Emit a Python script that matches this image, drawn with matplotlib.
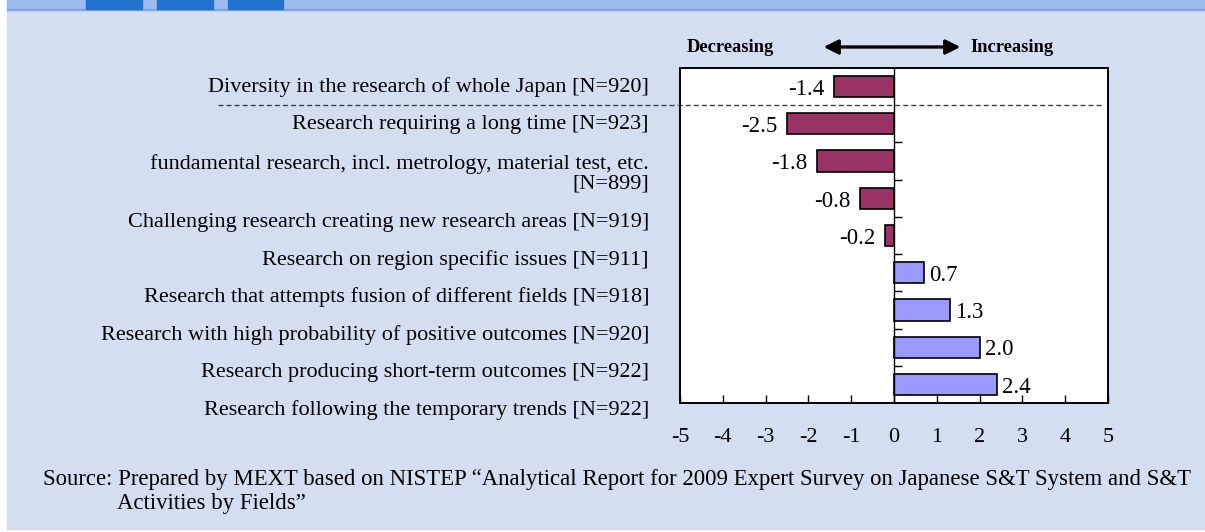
import matplotlib.pyplot as plt
from matplotlib.patches import Rectangle

# data
categories = [
    "Diversity in the research of whole Japan [N=920]",
    "Research requiring a long time [N=923]",
    "fundamental research, incl. metrology, material test, etc.\n[N=899]",
    "Challenging research creating new research areas [N=919]",
    "Research on region specific issues [N=911]",
    "Research that attempts fusion of different fields [N=918]",
    "Research with high probability of positive outcomes [N=920]",
    "Research producing short-term outcomes [N=922]",
    "Research following the temporary trends [N=922]",
]
values = [-1.4, -2.5, -1.8, -0.8, -0.2, 0.7, 1.3, 2.0, 2.4]
xticks = [-5, -4, -3, -2, -1, 0, 1, 2, 3, 4, 5]
source_line1 = ("Source: Prepared by MEXT based on NISTEP \u201cAnalytical Report for 2009 Expert "
                "Survey on Japanese S&T System and S&T")
source_line2 = "Activities by Fields\u201d"

W, H = 1205, 532
SERIF = ["Liberation Serif", "DejaVu Serif"]
plt.rcParams["font.family"] = SERIF

NEG = "#993366"
POS = "#9999FF"
PANEL = "#D3DFF0"

fig = plt.figure(figsize=(W / 100, H / 100), dpi=100)
fig.patch.set_facecolor("white")

def fx(x):
    return x / W

def fy(y):
    return 1 - y / H

# background panel and header strip
fig.patches.append(Rectangle((fx(7), fy(529)), fx(W - 7), (529 - 9) / H,
                             transform=fig.transFigure, color=PANEL, zorder=0))
fig.patches.append(Rectangle((fx(7), fy(9)), fx(W - 7), 9 / H,
                             transform=fig.transFigure, color="#9DBBEE", zorder=0))
fig.patches.append(Rectangle((fx(7), fy(10)), fx(W - 7), 1.2 / H,
                             transform=fig.transFigure, color="#7FA5E6", zorder=0))
for x0, x1 in [(86, 142), (157, 213), (228, 283)]:
    fig.patches.append(Rectangle((fx(x0), fy(9)), fx(x1 - x0), 9 / H,
                                 transform=fig.transFigure, color="#2271CC", zorder=1))

ax = fig.add_axes([fx(680), fy(403), fx(428), 335 / H])
ax.set_zorder(3)
ax.set_facecolor("white")
cols = [NEG if v < 0 else POS for v in values]
ax.barh(range(len(values)), values, height=0.57, color=cols,
        edgecolor="black", linewidth=1.2, zorder=3)
ax.set_xlim(-5, 5)
ax.set_ylim(len(values) - 0.5, -0.5)

for sp in ["top", "right", "bottom"]:
    ax.spines[sp].set_visible(False)
ax.spines["left"].set_position(("data", 0))
ax.spines["left"].set_linewidth(1.0)
ax.spines["left"].set_zorder(4)
ax.add_patch(Rectangle((0, 0), 1, 1, transform=ax.transAxes, fill=False,
                       edgecolor="black", linewidth=1.4, zorder=6, clip_on=False))

ax.set_yticks([i + 0.5 for i in range(1, len(values) - 1)])
ax.set_yticklabels([])
ax.tick_params(axis="y", direction="in", length=6, width=1)
ax.set_xticks(xticks)
ax.set_xticklabels([str(t) for t in xticks])
ax.tick_params(axis="x", direction="in", length=6, width=1, pad=18, labelsize=16)

for i, v in enumerate(values):
    if v < 0:
        ax.annotate(f"{v:.1f}", (v, i), xytext=(-7, -2), textcoords="offset points",
                    ha="right", va="center", fontsize=16.5)
    else:
        ax.annotate(f"{v:.1f}", (v, i), xytext=(4, -2), textcoords="offset points",
                    ha="left", va="center", fontsize=16.5)

# dashed separator below the first item
ax.axhline(0.5, xmin=(218 - 680) / 428, xmax=(1103 - 680) / 428, color="#404040",
           linewidth=1.0, dashes=(3.6, 2.2), clip_on=False, zorder=5)

# category labels (own spacing, like the original text boxes)
extra = 0
for i, lab in enumerate(categories):
    n = lab.count("\n") + 1
    y_first = 87 + 37.5 * i + 23 * extra
    yc = y_first + 23 * (n - 1) / 2
    fig.text(fx(649), fy(yc), lab, ha="right", va="center", multialignment="right",
             fontsize=16, linespacing=1.05)
    extra += n - 1

# direction header
fig.text(fx(730), fy(47), "Decreasing", ha="center", va="center", fontsize=13.3,
         fontweight="bold")
fig.text(fx(970), fy(47), "Increasing", ha="left", va="center", fontsize=13.3,
         fontweight="bold")
fig.add_artist(plt.annotate("", xy=(fx(960), fy(47)), xytext=(fx(824), fy(47)),
                            xycoords="figure fraction", textcoords="figure fraction",
                            arrowprops=dict(arrowstyle="<|-|>", color="black", lw=2,
                                            mutation_scale=22, shrinkA=0, shrinkB=0)))

fig.text(fx(43), fy(480), source_line1, ha="left", va="center", fontsize=16.4)
fig.text(fx(117), fy(503), source_line2, ha="left", va="center", fontsize=16.4)

fig.savefig("out.png", dpi=100)
